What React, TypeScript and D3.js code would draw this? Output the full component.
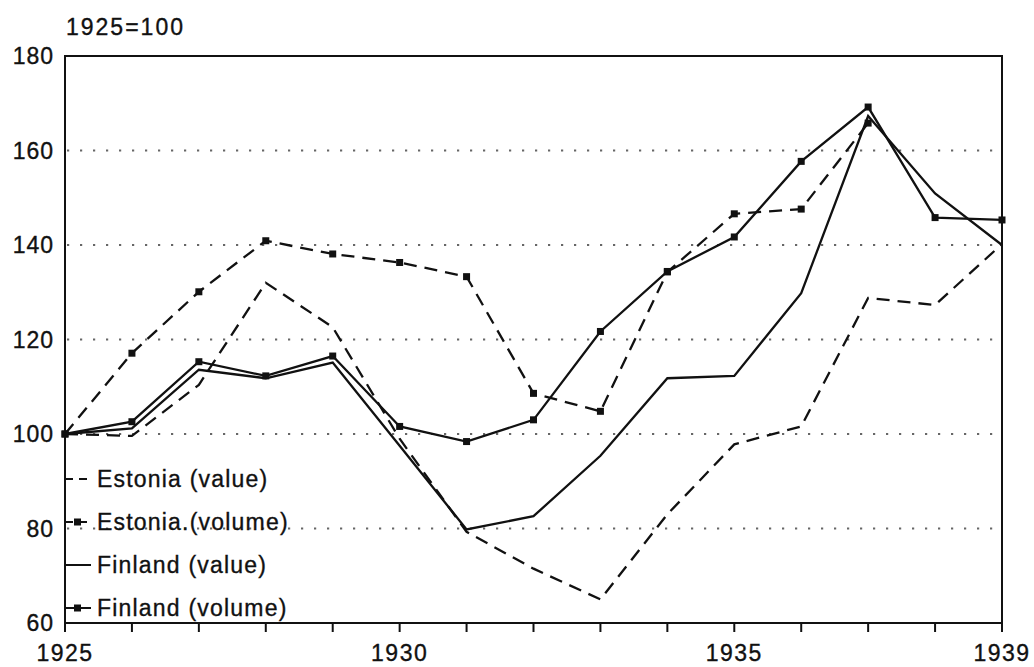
import React, {useEffect, useRef} from 'react';
import * as d3 from 'd3';

// index numbers, 1925=100
const years = [1925, 1926, 1927, 1928, 1929, 1930, 1931, 1932, 1933, 1934, 1935, 1936, 1937, 1938, 1939];
const estoniaValue = [100, 99.6, 110.4, 132, 122.6, 99, 79.3, 71.5, 65, 83, 97.8, 101.6, 128.8, 127.3, 140.2];
const estoniaVolume = [100, 117.1, 130.1, 140.9, 138.1, 136.3, 133.3, 108.6, 104.8, 134.3, 146.6, 147.6, 165.8, null, null];
const finlandValue = [100, 101.2, 113.6, 111.8, 115.1, 97.5, 79.8, 82.6, 95.4, 111.8, 112.3, 129.8, 167.3, 150.9, 140];
const finlandVolume = [100, 102.6, 115.3, 112.3, 116.5, 101.6, 98.4, 103, 121.7, 134.4, 141.7, 157.7, 169.2, 145.8, 145.3];

const yTicks = [60, 80, 100, 120, 140, 160, 180];
const gridTicks = [80, 100, 120, 140, 160];
const xLabels = [1925, 1930, 1935, 1939];

const legendItems = [
    {label: 'Estonia (value)', dashed: true, marker: false},
    {label: 'Estonia.(volume)', dashed: true, marker: true},
    {label: 'Finland (value)', dashed: false, marker: false},
    {label: 'Finland (volume)', dashed: false, marker: true},
];

const font = '"Liberation Sans", Arial, Helvetica, sans-serif';

const App = () => {
    const svgRef = useRef<SVGSVGElement>(null);
    const width = 1034;
    const height = 667;

    useEffect(() => {
        const svg = d3.select(svgRef.current);
        svg.selectAll('*').remove();

        const left = 65, right = 1002, top = 56, bottom = 623;

        const x = d3.scaleLinear().domain([1925, 1939]).range([left, right]);
        const y = d3.scaleLinear().domain([60, 180]).range([bottom, top]);

        // dotted grid lines
        svg.append('g')
            .selectAll('line')
            .data(gridTicks)
            .enter()
            .append('line')
            .attr('x1', left + 2)
            .attr('x2', right)
            .attr('y1', d => y(d))
            .attr('y2', d => y(d))
            .attr('stroke', '#666')
            .attr('stroke-width', 2.2)
            .attr('stroke-dasharray', '2.2 10.8');

        // plot frame
        svg.append('rect')
            .attr('x', left)
            .attr('y', top)
            .attr('width', right - left)
            .attr('height', bottom - top)
            .attr('fill', 'none')
            .attr('stroke', '#111')
            .attr('stroke-width', 2);

        // x axis ticks, pointing down
        svg.append('g')
            .selectAll('line')
            .data(years)
            .enter()
            .append('line')
            .attr('x1', d => x(d))
            .attr('x2', d => x(d))
            .attr('y1', bottom)
            .attr('y2', bottom + 9)
            .attr('stroke', '#111')
            .attr('stroke-width', 2);

        const textStyle = (sel: any, size: number, spacing: number) => sel
            .attr('font-family', font)
            .attr('font-size', size)
            .attr('letter-spacing', spacing)
            .attr('fill', '#111')
            .attr('stroke', '#111')
            .attr('stroke-width', 0.35);

        svg.append('g')
            .selectAll('text')
            .data(xLabels)
            .enter()
            .append('text')
            .attr('x', d => x(d))
            .attr('y', 661)
            .attr('text-anchor', 'middle')
            .call(textStyle, 23, 1.5)
            .text(d => d);

        svg.append('g')
            .selectAll('text')
            .data(yTicks)
            .enter()
            .append('text')
            .attr('x', 54)
            .attr('y', d => y(d) + 8)
            .attr('text-anchor', 'end')
            .call(textStyle, 23, 1)
            .text(d => d);

        svg.append('text')
            .attr('x', 66)
            .attr('y', 35)
            .call(textStyle, 23, 2)
            .text('1925=100');

        const series = [
            {values: estoniaValue, dashed: true, marker: false},
            {values: estoniaVolume, dashed: true, marker: true},
            {values: finlandValue, dashed: false, marker: false},
            {values: finlandVolume, dashed: false, marker: true},
        ];

        series.forEach(s => {
            const pts = years.map((yr, i) => ({yr, v: s.values[i]}));
            const line = d3.line<{yr: number, v: number | null}>()
                .defined(d => d.v !== null)
                .x(d => x(d.yr))
                .y(d => y(d.v as number));

            svg.append('path')
                .datum(pts)
                .attr('d', line)
                .attr('fill', 'none')
                .attr('stroke', '#111')
                .attr('stroke-width', 2.3)
                .attr('stroke-dasharray', s.dashed ? '13 8' : null);

            if (s.marker) {
                svg.append('g')
                    .selectAll('rect')
                    .data(pts.filter(d => d.v !== null))
                    .enter()
                    .append('rect')
                    .attr('x', d => x(d.yr) - 3.5)
                    .attr('y', d => y(d.v as number) - 3.5)
                    .attr('width', 7)
                    .attr('height', 7)
                    .attr('fill', '#111');
            }
        });

        // legend inside the plot, lower left
        const legend = svg.append('g');
        legendItems.forEach((item, i) => {
            const ly = 479 + i * 43;
            legend.append('line')
                .attr('x1', left)
                .attr('x2', 91)
                .attr('y1', ly)
                .attr('y2', ly)
                .attr('stroke', '#111')
                .attr('stroke-width', 2)
                .attr('stroke-dasharray', item.dashed ? '8 6' : null);
            if (item.marker) {
                legend.append('rect')
                    .attr('x', 74)
                    .attr('y', ly - 3.5)
                    .attr('width', 7)
                    .attr('height', 7)
                    .attr('fill', '#111');
            }
            legend.append('text')
                .attr('x', 97)
                .attr('y', ly + 8)
                .call(textStyle, 23, 1.2)
                .text(item.label);
        });
    }, []);

    return (
        <svg ref={svgRef} width={width} height={height}
             style={{position: 'absolute', left: 0, top: 0, background: '#fff'}}></svg>
    );
};

export default App;
